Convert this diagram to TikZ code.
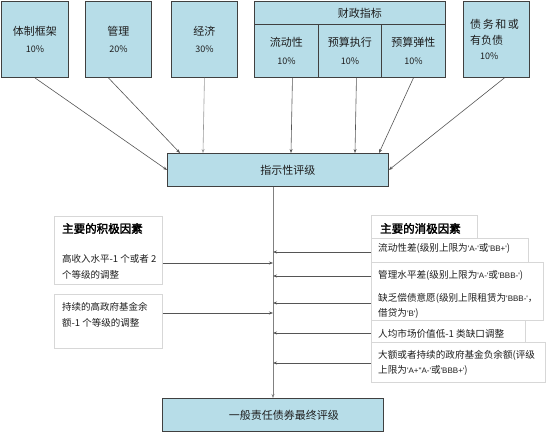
\documentclass[tikz,border=0pt]{standalone}
\usepackage{fontspec}
\setmainfont{Noto Sans CJK SC}[AutoFakeBold=2.5]
\newfontfamily\lat{Liberation Sans}
\usetikzlibrary{arrows.meta}
\definecolor{boxblue}{RGB}{183,221,232}
\definecolor{boxline}{RGB}{64,64,64}
\definecolor{lightline}{RGB}{215,215,215}
\definecolor{arrline}{RGB}{85,85,85}
\definecolor{txt}{RGB}{30,30,30}
\newcommand{\pct}[1]{{\fontsize{9}{9}\selectfont #1\%}}
\newcommand{\q}[1]{{\lat\fontsize{8}{8}\selectfont #1}}
\begin{document}
\begin{tikzpicture}[x=1pt,y=-1pt,
  bbox/.style={draw=boxline, fill=boxblue, line width=0.9pt, inner sep=0pt, anchor=north west, align=center, text=txt, font=\fontsize{11}{17.5}\selectfont},
  wbox/.style={draw=lightline, fill=white, line width=0.8pt, inner sep=0pt, anchor=north west},
  ltxt/.style={anchor=west, align=left, inner sep=0pt, text=txt, font=\fontsize{9.5}{16}\selectfont},
  rtxt/.style={anchor=west, align=left, inner sep=0pt, text=txt, font=\fontsize{9.6}{15}\selectfont},
  ttl/.style={anchor=west, inner sep=0pt, text=black, font=\fontsize{11.5}{14}\selectfont\bfseries},
  arr/.style={draw=arrline, line width=0.6pt, -{Stealth[length=4pt,width=3pt]}}
]
\useasboundingbox (0,0) rectangle (550,433);

% top boxes
\node[bbox, minimum width=67, minimum height=76] (b1) at (1,1) {体制框架\\\pct{10}};
\node[bbox, minimum width=66, minimum height=76] (b2) at (85,1) {管理\\\pct{20}};
\node[bbox, minimum width=66, minimum height=76] (b3) at (171,1) {经济\\\pct{30}};
\node[bbox, minimum width=191, minimum height=76] (fo) at (254,1) {};
\node[bbox, minimum width=191, minimum height=23] (fh) at (254,1) {\hspace*{20pt}财政指标};
\node[bbox, minimum width=64, minimum height=53] (f1) at (254,24) {流动性\\\pct{10}};
\node[bbox, minimum width=63, minimum height=53] (f2) at (318,24) {预算执行\\\pct{10}};
\node[bbox, minimum width=64, minimum height=53] (f3) at (381,24) {预算弹性\\\pct{10}};
\node[bbox, minimum width=66, minimum height=76] (b5) at (463,1) {};
\node[anchor=west, align=left, inner sep=0pt, text=txt, font=\fontsize{11}{15.5}\selectfont] (b5t) at (470,39.5)
  {债\hspace{1.6pt}务\hspace{1.6pt}和\hspace{1.6pt}或\\有负债\\\hspace*{10pt}\pct{10}};

% indicative rating and final rating
\node[bbox, minimum width=221, minimum height=33] (ind) at (167,153) {\hspace*{20pt}指示性评级};
\node[bbox, minimum width=221, minimum height=33] (fin) at (162,398) {\hspace*{22pt}一般责任债券最终评级};

% arrows into indicative rating
\draw[arr] (b1.south) -- (ind.west);
\draw[arr] ([xshift=-10pt]b2.south) -- ([xshift=13pt]ind.north west);
\draw[arr, draw=gray!80] (b3.south) -- ([xshift=36pt]ind.north west);
\draw[arr] ([xshift=6pt]f1.south) -- ([xshift=124pt]ind.north west);
\draw[arr] ([xshift=6.5pt]f2.south) -- ([xshift=188pt]ind.north west);
\draw[arr] (f3.south) -- ([xshift=212pt]ind.north west);
\draw[arr] ([xshift=8pt]b5.south) -- (ind.east);

% central vertical line
\coordinate (vx) at (273,0);
\draw[arr, draw=gray] (ind.south -| vx) -- (fin.north -| vx);

% positive factors
\node[wbox, minimum width=108, minimum height=68] (pA) at (54,216) {};
\node[wbox, minimum width=108, minimum height=54] (pB) at (54,294) {};
\node[ttl] (pAt) at (62,228.5) {主要的积极因素};
\node[ltxt] (pA1) at (62,267) {高收入水平-1 个或者 2\\个等级的调整};
\node[ltxt] (pB1) at (62,315) {持续的高政府基金余\\额-1 个等级的调整};
\coordinate (aA) at (273,263);
\coordinate (aB) at (273,313);
\draw[arr] (pA.east |- aA) -- (aA);
\draw[arr] (pB.east |- aB) -- (aB);

% negative factors
\node[wbox, minimum width=106, minimum height=30] (nt) at (371,215) {};
\node[wbox, minimum width=157, minimum height=27] (n1) at (371,238) {};
\node[wbox, minimum width=172, minimum height=58] (n2) at (371,262) {};
\node[wbox, minimum width=154, minimum height=27] (n4) at (371,320) {};
\node[wbox, minimum width=174, minimum height=40] (n5) at (371,342) {};
\node[ttl] (ntt) at (380,228.5) {主要的消极因素};
\node[rtxt] (n1t) at (378,248) {流动性差(级别上限为\q{'A-'}或\q{'BB+'})};
\node[rtxt] (n2t) at (378,275) {管理水平差(级别上限为\q{'A-'}或\q{'BBB-'})};
\node[rtxt] (n3t) at (378,305.5) {缺乏偿债意愿(级别上限租赁为\q{'BBB-'}，\\借贷为\q{'B'})};
\node[rtxt] (n4t) at (378,334) {人均市场价值低-1 类缺口调整};
\node[rtxt] (n5t) at (378,362.5) {大额或者持续的政府基金负余额(评级\\上限为\q{'A+''A-'}或\q{'BBB+'})};
\coordinate (c1) at (273,252);
\coordinate (c2) at (273,276);
\coordinate (c3) at (273,303);
\coordinate (c4) at (273,333);
\coordinate (c5) at (273,363);
\draw[arr] (n1.west |- c1) -- (c1);
\draw[arr] (n2.west |- c2) -- (c2);
\draw[arr] (n2.west |- c3) -- (c3);
\draw[arr] (n4.west |- c4) -- (c4);
\draw[arr] (n5.west |- c5) -- (c5);
\end{tikzpicture}
\end{document}
